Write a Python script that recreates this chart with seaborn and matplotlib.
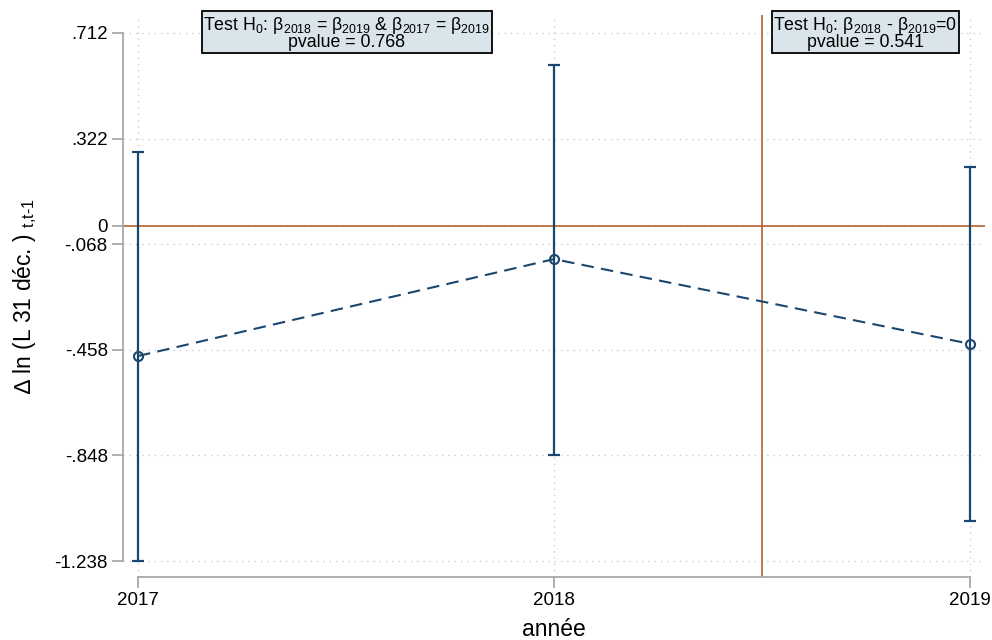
import matplotlib
matplotlib.use('Agg')
import numpy as np
import pandas as pd
import seaborn as sns
import matplotlib.pyplot as plt

# ---- data ----
years = [2017, 2018, 2019]
coef = [-0.481, -0.123, -0.436]
ci_low = [-1.238, -0.846, -1.090]
ci_high = [0.273, 0.594, 0.216]
ytick_vals = [0.712, 0.322, 0, -0.068, -0.458, -0.848, -1.238]
ytick_labels = ['.712', '.322', '0', '-.068', '-.458', '-.848', '-1.238']
xtick_labels = ['2017', '2018', '2019']
vline_x = 2018.5
hline_y = 0
test1_text = "Test H$_0$: β$_{2018}$ = β$_{2019}$ & β$_{2017}$ = β$_{2019}$\npvalue = 0.768"
test2_text = "Test H$_0$: β$_{2018}$ - β$_{2019}$=0\npvalue = 0.541"
xlabel = "année"
ylabel = "∆ ln (L 31 déc. ) $_{\\text{t,t-1}}$"

df = pd.DataFrame({"year": years, "coef": coef, "lo": ci_low, "hi": ci_high})

sns.set_theme(style="white")
plt.rcParams['font.family'] = ['Liberation Sans', 'DejaVu Sans']
plt.rcParams['mathtext.fontset'] = 'custom'
plt.rcParams['mathtext.rm'] = 'Liberation Sans'
plt.rcParams['mathtext.it'] = 'Liberation Sans:italic'
plt.rcParams['mathtext.bf'] = 'Liberation Sans:bold'
plt.rcParams['text.color'] = 'black'
plt.rcParams['axes.labelcolor'] = 'black'

navy = '#1a476f'
orange = '#b8602f'
gray = '#a8a8a8'

fig = plt.figure(figsize=(9.92, 6.4), dpi=100)
ax = fig.add_axes([0.124, 0.0984, 0.869, 0.878])

ax.set_xlim(2016.964, 2019.036)
ax.set_ylim(-1.297, 0.778)

ax.set_yticks(ytick_vals)
ax.set_yticklabels(ytick_labels)
ax.set_xticks(years)
ax.set_xticklabels(xtick_labels)

ax.grid(True, linestyle=(0, (1, 4)), color='#c4c4c4', linewidth=0.9, zorder=0)
ax.set_axisbelow(True)

ax.axhline(hline_y, color=orange, lw=1.2, zorder=1)
ax.axvline(vline_x, color=orange, lw=1.2, zorder=1)

ax.errorbar(df["year"], df["coef"],
            yerr=[df["coef"] - df["lo"], df["hi"] - df["coef"]],
            fmt='none', ecolor=navy, elinewidth=1.6, capsize=4, capthick=1.6, zorder=3)

sns.lineplot(data=df, x="year", y="coef", ax=ax, color=navy, lw=1.5,
             marker='o', markersize=6.5, markerfacecolor='none',
             markeredgecolor=navy, markeredgewidth=1.5, zorder=4)
line = ax.lines[-1]
line.set_dashes((6, 3.5))
line.set_markerfacecolor('none')

for s in ['top', 'right']:
    ax.spines[s].set_visible(False)
for s in ['left', 'bottom']:
    ax.spines[s].set_color(gray)
    ax.spines[s].set_linewidth(1.3)
ax.spines['left'].set_bounds(min(ytick_vals), max(ytick_vals))
ax.spines['bottom'].set_bounds(min(years), max(years))

ax.tick_params(axis='both', direction='out', length=8, width=1.3, color=gray,
               labelsize=13.5, labelcolor='black', pad=3)
ax.tick_params(axis='x', bottom=True)
ax.tick_params(axis='y', left=True)

ax.set_xlabel(xlabel, fontsize=16.5, labelpad=6, color='black')
ax.set_ylabel(ylabel, fontsize=16.5, labelpad=11, color='black')

box = dict(boxstyle='square,pad=0.08', fc='#d9e5ea', ec='black', lw=1.3)
ax.text(2017.502, 0.712, test1_text, ha='center', va='center', fontsize=12.8,
        linespacing=0.88, bbox=box, zorder=5, color='black')
ax.text(2018.748, 0.712, test2_text, ha='center', va='center', fontsize=12.8,
        linespacing=0.88, bbox=box, zorder=5, color='black')

fig.savefig("out.png", dpi=100)
